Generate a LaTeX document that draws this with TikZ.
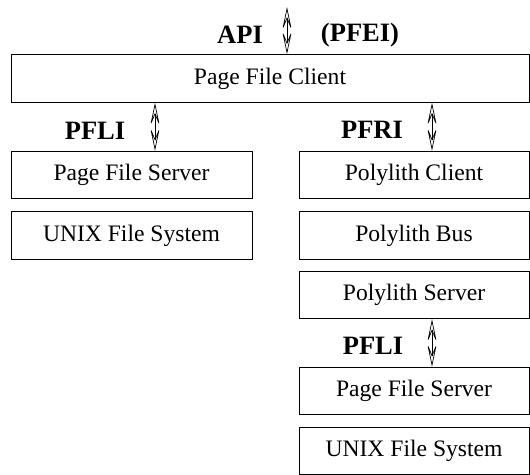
\documentclass[tikz,border=0pt]{standalone}
\usepackage{fontspec}
\setmainfont{Liberation Serif}
\usetikzlibrary{arrows.meta}

\tikzset{
  layer/.style={draw, line width=0.8pt, minimum height=47.5pt, inner sep=0pt,
    font=\fontsize{23.6}{27}\selectfont},
  iface/.style={font=\fontsize{26.5}{30}\selectfont\bfseries, inner sep=0pt},
  biarrow/.style={line width=0.7pt,
    {Stealth[open, length=24pt, width=10pt, inset=12pt]}-{Stealth[open, length=24pt, width=10pt, inset=12pt]}}
}

\begin{document}
\begin{tikzpicture}[x=1pt, y=-1pt]

    \useasboundingbox (0,0) rectangle (530,474.5);

    % Page file client (top)
    \node[layer, minimum width=518pt] (pfc) at (270,78.5) {Page File Client};

    % Local column
    \node[layer, minimum width=241pt] (lpfs) at (131.5,175) {Page File Server};
    \node[layer, minimum width=241pt] (lufs) at (131.5,235.5) {UNIX File System};

    % Remote column
    \node[layer, minimum width=230pt] (pcl) at (414,175) {Polylith Client};
    \node[layer, minimum width=230pt] (pbus) at (414,235.5) {Polylith Bus};
    \node[layer, minimum width=230pt] (psrv) at (414,295) {Polylith Server};
    \node[layer, minimum width=230pt] (rpfs) at (414,391) {Page File Server};
    \node[layer, minimum width=230pt] (rufs) at (414,451) {UNIX File System};

    % Arrow positions
    \coordinate (apitop) at (287,7);
    \coordinate (xl) at (155,0);
    \coordinate (xr) at (432,0);

    % Interfaces
    \draw[biarrow] (apitop) -- (pfc.north -| apitop);
    \draw[biarrow] (pfc.south -| xl) -- (lpfs.north -| xl);
    \draw[biarrow] (pfc.south -| xr) -- (pcl.north -| xr);
    \draw[biarrow] (psrv.south -| xr) -- (rpfs.north -| xr);

    % Interface labels
    \node[iface] (api) at (240,35) {API};
    \node[iface] (pfei) at (360,35) {(PFEI)};
    \node[iface] (pfli1) at (95,131) {PFLI};
    \node[iface] (pfri) at (372,130) {PFRI};
    \node[iface] (pfli2) at (373,346) {PFLI};

  \end{tikzpicture}
\end{document}
